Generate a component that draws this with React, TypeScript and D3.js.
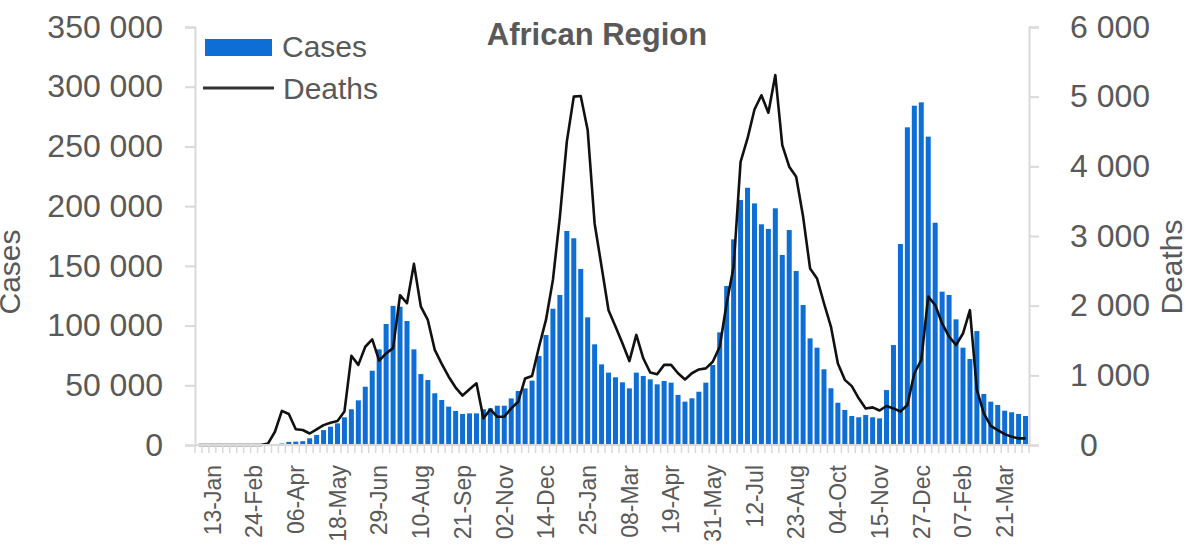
import * as d3 from "d3";
import { useEffect, useRef } from "react";

// weekly categories, Monday 30-Dec-2019 .. 11-Apr-2022
const weeks = d3.timeMonday.range(new Date(2019, 11, 30), new Date(2022, 3, 12));
const fmtWeek = d3.timeFormat("%d-%b");

const cases = [
  0, 0, 0, 0, 0, 0, 0, 0, 0, 0, 0, 300, 1200, 2600, 2800, 3200, 5600, 8400, 12500, 15300,
  18100, 23200, 29900, 37400, 48800, 62200, 80100, 101300, 116500, 115800, 103800, 80100, 59400, 54400, 43300, 37700,
  32100, 28500, 26000, 26500, 26500, 29900, 30700, 32900, 32900, 39000, 45200, 47400, 53900, 74500,
  92100, 114100, 125600, 179200, 173100, 147400, 106900, 84300, 67500, 60600, 56700, 52500, 47400, 60600,
  57800, 55000, 50800, 53600, 52200, 41900, 36300, 39100, 44600, 52200, 67000, 94300, 133100, 172200,
  205100, 215400, 202300, 184800, 180900, 198200, 159100, 180000, 145700, 117200, 89300, 81500, 63400,
  47500, 35400, 29300, 24300, 23200, 25100, 23200, 22300, 46000, 83700, 168300, 266000, 284100, 286900,
  258200, 186100, 128400, 125600, 105200, 81500, 72000, 95400, 42700, 36300, 33500, 28700, 27400, 26000, 24300,
];

const deaths = [
  0, 0, 0, 0, 0, 0, 0, 0, 0, 0, 20, 190, 490, 445, 225, 215, 165, 225, 285, 320,
  345, 480, 1280, 1150, 1410, 1515, 1210, 1315, 1390, 2150, 2035, 2600, 1985, 1795, 1365, 1165,
  980, 825, 710, 800, 885, 385, 510, 405, 405, 525, 620, 955, 990, 1410,
  1795, 2370, 3275, 4355, 5000, 5010, 4520, 3180, 2560, 1935, 1700, 1460, 1205, 1580,
  1245, 1040, 1015, 1150, 1150, 1030, 940, 1030, 1085, 1100, 1195, 1410, 2035, 2560,
  4065, 4400, 4815, 5020, 4770, 5310, 4305, 3995, 3850, 3275, 2535, 2390, 2035,
  1700, 1170, 935, 845, 670, 525, 540, 495, 560, 525, 480, 575, 1030, 1220,
  2130, 2010, 1745, 1555, 1435, 1600, 1935, 790, 455, 275, 215, 155, 120, 95, 95,
];

const casesTicks = [0, 50000, 100000, 150000, 200000, 250000, 300000, 350000];
const deathsTicks = [0, 1000, 2000, 3000, 4000, 5000, 6000];

export default function App() {
  const svgRef = useRef(null);

  useEffect(() => {
    if (!svgRef.current) return;
    const svg = d3.select(svgRef.current);
    svg.selectAll("*").remove();

    const width = 1187;
    const height = 548;
    const left = 195, right = 1029, top = 27, bottom = 445;
    const font = "'Liberation Sans', Arial, sans-serif";
    const grey = "#595959";
    const axisGrey = "#d9d9d9";
    const blue = "#0d6fd6";

    const idx = weeks.map((_, i) => i);
    const x = d3.scaleBand().domain(idx).range([left, right]).paddingInner(0.28).paddingOuter(0.14);
    const xb = d3.scaleBand().domain(idx).range([left, right]);
    const yL = d3.scaleLinear().domain([0, 350000]).range([bottom, top]);
    const yR = d3.scaleLinear().domain([0, 6000]).range([bottom, top]);
    const fmt = (v) => d3.format(",")(v).replace(/,/g, " ");

    svg.attr("width", width).attr("height", height)
      .attr("viewBox", [0, 0, width, height])
      .style("font-family", font);

    // bars
    svg.append("g")
      .selectAll("rect")
      .data(cases)
      .join("rect")
      .attr("x", (d, i) => x(i))
      .attr("width", x.bandwidth())
      .attr("y", d => yL(d))
      .attr("height", d => bottom - yL(d))
      .attr("fill", blue);

    // deaths line
    const line = d3.line()
      .x((d, i) => xb(i) + xb.bandwidth() / 2)
      .y(d => yR(d));
    svg.append("path")
      .datum(deaths)
      .attr("d", line)
      .attr("fill", "none")
      .attr("stroke", "#111")
      .attr("stroke-width", 2.6)
      .attr("stroke-linejoin", "round");

    // left axis
    const gL = svg.append("g").attr("transform", `translate(${left},0)`)
      .call(d3.axisLeft(yL).tickValues(casesTicks).tickFormat(fmt).tickSizeOuter(0).tickSize(10).tickPadding(22));
    gL.select(".domain").attr("stroke", axisGrey).attr("stroke-width", 2);
    gL.selectAll(".tick line").attr("stroke", axisGrey).attr("stroke-width", 2);
    gL.selectAll(".tick text").attr("fill", grey).attr("font-size", 32).attr("font-family", font);

    // right axis
    const gR = svg.append("g").attr("transform", `translate(${right},0)`)
      .call(d3.axisRight(yR).tickValues(deathsTicks).tickFormat(fmt).tickSizeOuter(0).tickSize(10).tickPadding(31));
    gR.select(".domain").attr("stroke", axisGrey).attr("stroke-width", 2);
    gR.selectAll(".tick line").attr("stroke", axisGrey).attr("stroke-width", 2);
    gR.selectAll(".tick text").attr("fill", grey).attr("font-size", 32).attr("font-family", font)
      .attr("dx", d => (d === 0 ? 10 : 0));

    // bottom axis: line, tick marks between weeks, labels every 6 weeks
    svg.append("line")
      .attr("x1", left).attr("x2", right).attr("y1", bottom).attr("y2", bottom)
      .attr("stroke", axisGrey).attr("stroke-width", 2);
    svg.append("g")
      .selectAll("line")
      .data(d3.range(weeks.length + 1))
      .join("line")
      .attr("x1", i => left + i * xb.step())
      .attr("x2", i => left + i * xb.step())
      .attr("y1", bottom)
      .attr("y2", bottom + 8)
      .attr("stroke", axisGrey)
      .attr("stroke-width", 1.5);
    svg.append("g")
      .selectAll("text")
      .data(idx.filter(i => i >= 2 && (i - 2) % 6 === 0))
      .join("text")
      .attr("transform", i => `translate(${xb(i) + xb.bandwidth() / 2},465) rotate(-90)`)
      .attr("text-anchor", "end")
      .attr("dy", "0.36em")
      .attr("fill", grey)
      .attr("font-size", 23)
      .text(i => fmtWeek(weeks[i]));

    // axis titles (left one runs off the picture edge, as in the source)
    svg.append("text")
      .attr("transform", "translate(20,272) rotate(-90)")
      .attr("text-anchor", "middle")
      .attr("fill", grey)
      .attr("font-size", 30)
      .text("Cases");
    svg.append("text")
      .attr("transform", "translate(1182,267) rotate(-90)")
      .attr("text-anchor", "middle")
      .attr("fill", grey)
      .attr("font-size", 30)
      .text("Deaths");

    // title
    svg.append("text")
      .attr("x", 597).attr("y", 45)
      .attr("text-anchor", "middle")
      .attr("fill", grey)
      .attr("font-size", 31)
      .attr("font-weight", "bold")
      .text("African Region");

    // legend
    const lg = svg.append("g");
    lg.append("rect").attr("x", 205).attr("y", 39).attr("width", 67).attr("height", 17).attr("fill", blue);
    lg.append("text").attr("x", 282).attr("y", 57).attr("fill", grey).attr("font-size", 30).text("Cases");
    lg.append("line").attr("x1", 203).attr("x2", 274).attr("y1", 88).attr("y2", 88)
      .attr("stroke", "#333").attr("stroke-width", 3);
    lg.append("text").attr("x", 283).attr("y", 99).attr("fill", grey).attr("font-size", 30).text("Deaths");
  }, []);

  return <svg ref={svgRef} style={{ position: "absolute", left: 0, top: 0, display: "block" }}></svg>;
}
